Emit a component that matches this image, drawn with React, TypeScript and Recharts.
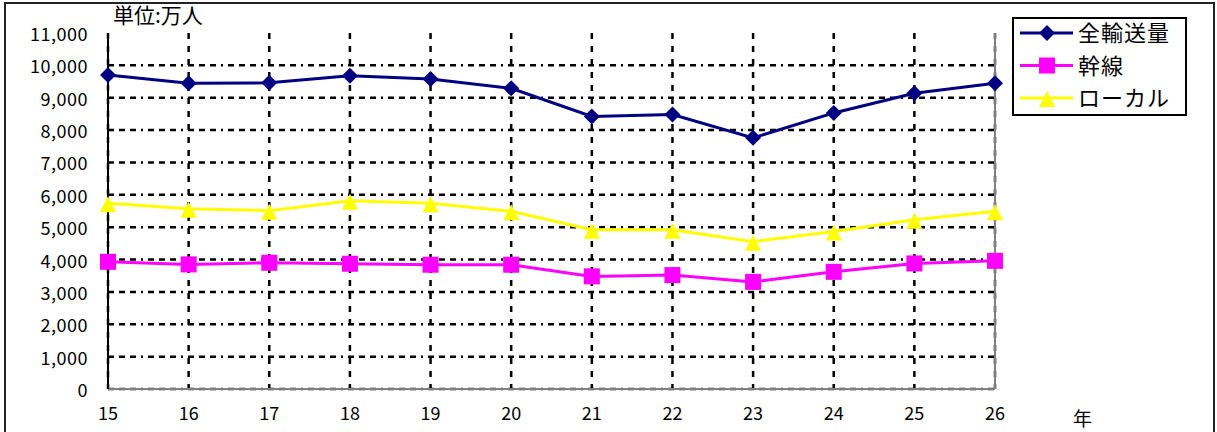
import React from 'react';
import {
  LineChart,
  Line,
  XAxis,
  YAxis,
  CartesianGrid,
  ReferenceLine
} from 'recharts';

// 年度 (平成)
const years = ['15', '16', '17', '18', '19', '20', '21', '22', '23', '24', '25', '26'];
// 単位: 万人
const totalTransport = [9700, 9450, 9460, 9680, 9580, 9290, 8420, 8480, 7760, 8530, 9140, 9450];
const trunkLine = [3930, 3850, 3900, 3870, 3840, 3840, 3480, 3520, 3310, 3620, 3880, 3960];
const localLine = [5740, 5570, 5510, 5820, 5740, 5490, 4920, 4920, 4550, 4870, 5230, 5490];

const yTicks = [0, 1000, 2000, 3000, 4000, 5000, 6000, 7000, 8000, 9000, 10000, 11000];
const gridValues = [0, 1000, 2000, 3000, 4000, 5000, 6000, 7000, 8000, 9000, 10000];

const legendItems = [
  { key: 'total', label: '全輸送量', color: '#000080', shape: 'diamond' },
  { key: 'trunk', label: '幹線', color: '#FF00FF', shape: 'square' },
  { key: 'local', label: 'ローカル', color: '#FFFF00', shape: 'triangle' }
];

const data = years.map((year, i) => ({
  year,
  total: totalTransport[i],
  trunk: trunkLine[i],
  local: localLine[i]
}));

const FONT = '"Noto Sans CJK JP", "Noto Sans", sans-serif';

const marker = (shape: string, color: string, cx: number, cy: number, key?: string) => {
  if (shape === 'diamond') {
    const r = 8;
    return (
      <path key={key} d={`M${cx},${cy - r}L${cx + r},${cy}L${cx},${cy + r}L${cx - r},${cy}Z`} fill={color} />
    );
  }
  if (shape === 'square') {
    const s = 8;
    return <rect key={key} x={cx - s} y={cy - s} width={s * 2} height={s * 2} fill={color} />;
  }
  return (
    <path key={key} d={`M${cx},${cy - 7}L${cx + 8},${cy + 9}L${cx - 8},${cy + 9}Z`} fill={color} />
  );
};

const makeDot = (shape: string, color: string) => (props: any) => {
  const { cx, cy, index } = props;
  return marker(shape, color, cx, cy, `${shape}-${index}`);
};

const YTick = (props: any) => {
  const { x, y, payload } = props;
  return (
    <text x={x} y={y} textAnchor="end" dominantBaseline="central" fontSize={18} letterSpacing={0.5} fontFamily={FONT} fill="#000">
      {Number(payload.value).toLocaleString('en-US')}
    </text>
  );
};

const XTick = (props: any) => {
  const { x, y, payload } = props;
  return (
    <text x={x} y={y} dy="0.71em" textAnchor="middle" fontSize={18} fontFamily={FONT} fill="#000">
      {payload.value}
    </text>
  );
};

const App: React.FC = () => {
  return (
    <div style={{ position: 'relative', width: 1217, height: 432, background: '#fff', fontFamily: FONT }}>
      <style>{`body { margin: 0; }`}</style>
      <div
        style={{
          position: 'absolute',
          left: 4,
          top: 2,
          width: 1207,
          height: 440,
          border: '2px solid #222'
        }}
      />
      <LineChart
        width={1217}
        height={432}
        data={data}
        margin={{ top: 33, right: 222, left: 0, bottom: 0 }}
      >
        <ReferenceLine x="26" stroke="#808080" strokeWidth={2} />
        <CartesianGrid
          horizontal={true}
          vertical={false}
          horizontalValues={gridValues}
          stroke="#000"
          strokeWidth={2.5}
          strokeDasharray="6 5 6 5 6 5 2 5"
        />
        <CartesianGrid
          horizontal={false}
          vertical={true}
          stroke="#000"
          strokeWidth={2.5}
          strokeDasharray="6 7"
        />
        <XAxis
          dataKey="year"
          height={43}
          axisLine={{ stroke: '#808080', strokeWidth: 2 }}
          tickLine={false}
          tickSize={6}
          tickMargin={12}
          interval={0}
          tick={<XTick />}
        />
        <YAxis
          width={108}
          domain={[0, 11000]}
          ticks={yTicks}
          interval={0}
          axisLine={{ stroke: '#000', strokeWidth: 2 }}
          tickLine={false}
          tickSize={6}
          tickMargin={14}
          tick={<YTick />}
        />
        <Line
          dataKey="local"
          stroke="#FFFF00"
          strokeWidth={3}
          dot={makeDot('triangle', '#FFFF00')}
          activeDot={false}
          isAnimationActive={false}
        />
        <Line
          dataKey="trunk"
          stroke="#FF00FF"
          strokeWidth={3}
          dot={makeDot('square', '#FF00FF')}
          activeDot={false}
          isAnimationActive={false}
        />
        <Line
          dataKey="total"
          stroke="#000080"
          strokeWidth={3}
          dot={makeDot('diamond', '#000080')}
          activeDot={false}
          isAnimationActive={false}
        />
      </LineChart>
      <div style={{ position: 'absolute', left: 113, top: 4, fontSize: 21, lineHeight: '21px', color: '#000' }}>
        単位:万人
      </div>
      <div style={{ position: 'absolute', left: 1073, top: 408, fontSize: 19, lineHeight: '19px', color: '#000' }}>
        年
      </div>
      <div
        style={{
          position: 'absolute',
          left: 1012,
          top: 17,
          width: 171,
          height: 95,
          border: '2px solid #000',
          background: '#fff'
        }}
      >
        <svg width={171} height={95} style={{ overflow: 'visible' }}>
          {legendItems.map((item, i) => {
            const y = 14 + i * 32.5;
            return (
              <g key={item.key}>
                <line x1={6} y1={y} x2={59} y2={y} stroke={item.color} strokeWidth={3} />
                {marker(item.shape, item.color, 33, y)}
                <text
                  x={64}
                  y={y + 8}
                  fontSize={22}
                  letterSpacing={1}
                  fontFamily={FONT}
                  fill="#000"
                >
                  {item.label}
                </text>
              </g>
            );
          })}
        </svg>
      </div>
    </div>
  );
};

export default App;
